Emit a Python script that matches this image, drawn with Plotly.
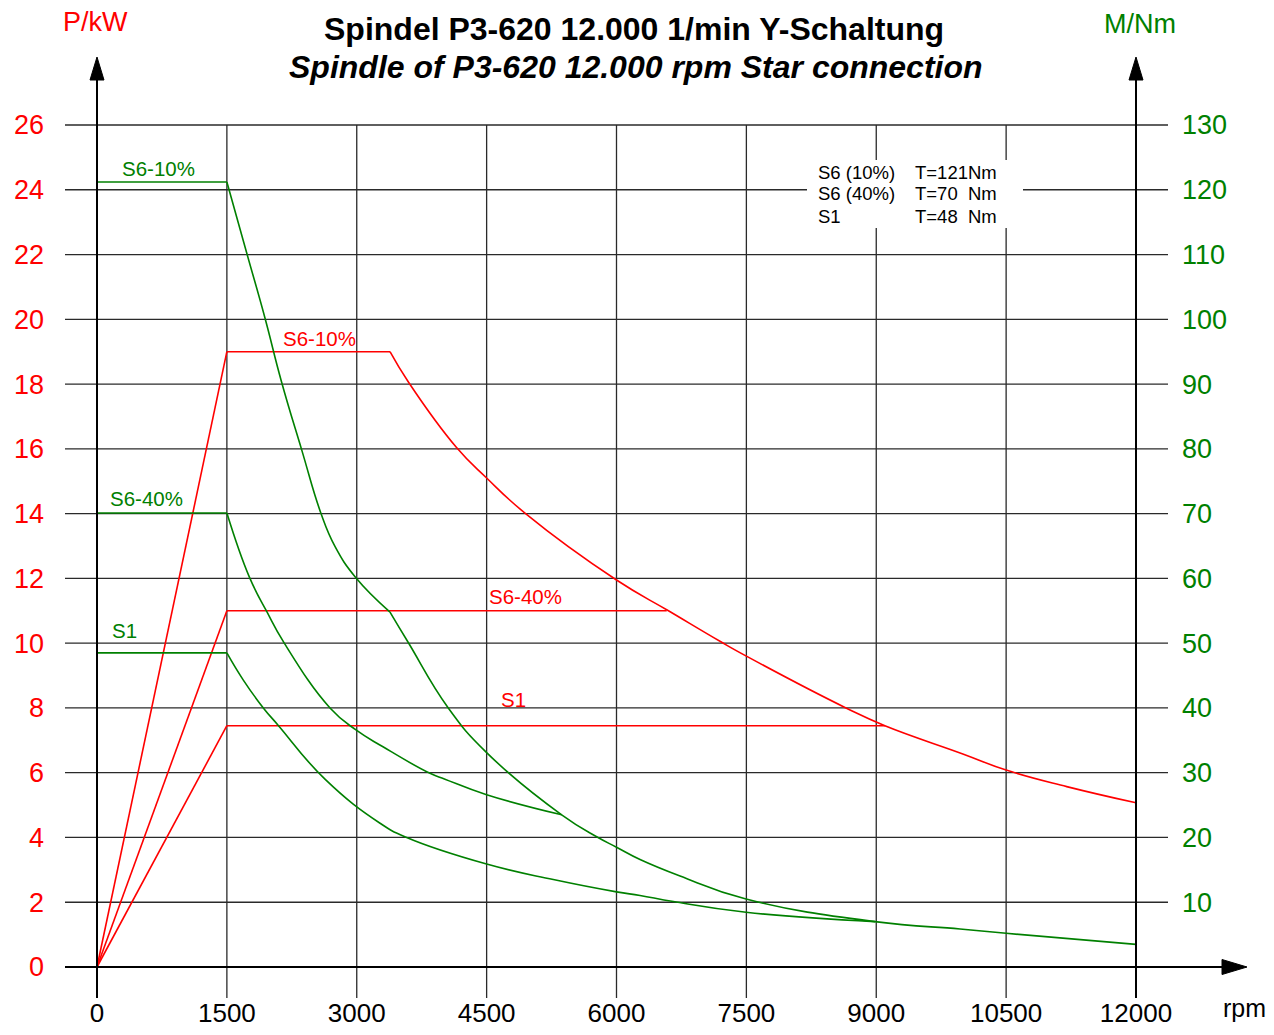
import plotly.graph_objects as go

# ---------------- data ----------------
rpm_ticks = [0, 1500, 3000, 4500, 6000, 7500, 9000, 10500, 12000]
kw_ticks = [0, 2, 4, 6, 8, 10, 12, 14, 16, 18, 20, 22, 24, 26]
nm_ticks = [10, 20, 30, 40, 50, 60, 70, 80, 90, 100, 110, 120, 130]

# Power curves (kW)
p_s6_10_rpm = [0, 1500, 3384, 3600, 4150, 4500, 4950, 6000, 6600, 7200, 7500, 8650, 9100, 10000, 10500, 11200, 12000]
p_s6_10_kw = [0, 19, 19, 18.05, 16.05, 15.1, 14.0, 11.95, 11.0, 10.05, 9.6, 8.0, 7.45, 6.58, 6.08, 5.57, 5.07]
p_s6_40_rpm = [0, 1500, 6580]
p_s6_40_kw = [0, 11, 11]
p_s1_rpm = [0, 1500, 9100]
p_s1_kw = [0, 7.45, 7.45]

# Torque curves (Nm)
t_s6_10_rpm = [0, 1500, 1730, 1940, 2130, 2365, 2585, 2750, 2990, 3384, 3595, 4057, 4500,
               5367, 5771, 6000, 6272, 6734, 7496, 8986, 9968, 10500, 12000]
t_s6_10_nm = [121.2, 121.2, 110.2, 100.2, 90.4, 79.8, 70.1, 64.9, 60.1, 54.8, 50.1, 40.0, 33.1,
              23.5, 20.1, 18.5, 16.6, 14.05, 10.5, 7.0, 5.87, 5.2, 3.5]
t_s6_40_rpm = [0, 1500, 1760, 1960, 2163, 2691, 2991, 3303, 3846, 4019, 4500, 5367]
t_s6_40_nm = [70.1, 70.1, 60.2, 54.9, 50.0, 40.0, 36.6, 34.0, 29.9, 29.0, 26.6, 23.5]
t_s1_rpm = [0, 1500, 1690, 1921, 2094, 2633, 3269, 3577, 4500, 5270, 6000, 6272, 6657, 7496, 8986]
t_s1_nm = [48.5, 48.5, 44.3, 40.0, 37.3, 29.0, 22.2, 20.0, 15.9, 13.5, 11.6, 11.05, 10.1, 8.45, 7.0]

legend_rows = [("S6 (10%)", "T=121Nm"), ("S6 (40%)", "T=70  Nm"), ("S1", "T=48  Nm")]

# ---------------- layout geometry ----------------
OFF = 8                        # page body margin of the html
W, H = 1274 - 2 * OFF, 1035 - 2 * OFF
PL, PR, PT, PB = 65, 1250, 55, 998   # plot area in reference pixels
L, R, T, B = PL - OFF, W - (PR - OFF), PT - OFF, H - (PB - OFF)
PX0, PX12 = 97, 1136          # pixel x of 0 and 12000 rpm
PY0, PY26 = 967, 125          # pixel y of 0 kW and 26 kW
S = (rpm_ticks[-1] - rpm_ticks[0]) / (PX12 - PX0)
KY = kw_ticks[-1] / (PY0 - PY26)
NY = nm_ticks[-1] / (PY0 - PY26)

def px2rpm(px): return (px - PX0) * S
def py2kw(py): return (PY0 - py) * KY
def py2nm(py): return (PY0 - py) * NY
def pxp(px): return (px - PL) / (PR - PL)
def pyp(py): return (PB - py) / (PB - PT)

RED = "#ff0000"
GREEN = "#008000"
FONT = "Liberation Sans, Arial, sans-serif"

fig = go.Figure()

def add_curve(xs, ys, breaks, color, yaxis):
    for a, b in zip(breaks[:-1], breaks[1:]):
        seg_x = xs[a:b + 1]
        seg_y = ys[a:b + 1]
        shape = "linear" if len(seg_x) <= 2 else "spline"
        line = dict(color=color, width=1.6, shape=shape)
        if shape == "spline":
            line["smoothing"] = 1.3
        fig.add_trace(go.Scatter(x=seg_x, y=seg_y, mode="lines", line=line,
                                 yaxis=yaxis, hoverinfo="skip", showlegend=False))

add_curve(p_s6_10_rpm, p_s6_10_kw, [0, 1, 2, len(p_s6_10_rpm) - 1], RED, "y")
add_curve(p_s6_40_rpm, p_s6_40_kw, [0, 1, 2], RED, "y")
add_curve(p_s1_rpm, p_s1_kw, [0, 1, 2], RED, "y")
add_curve(t_s6_10_rpm, t_s6_10_nm, [0, 1, 9, len(t_s6_10_rpm) - 1], GREEN, "y2")
add_curve(t_s6_40_rpm, t_s6_40_nm, [0, 1, len(t_s6_40_rpm) - 1], GREEN, "y2")
add_curve(t_s1_rpm, t_s1_nm, [0, 1, len(t_s1_rpm) - 1], GREEN, "y2")

shapes = []
GRID = dict(color="#2a2a2a", width=1.3)
AX = dict(color="black", width=2)
xl, xr = px2rpm(65), px2rpm(1168)
ybot = py2kw(998)
for v in kw_ticks[1:]:
    shapes.append(dict(type="line", xref="x", yref="y", x0=xl, x1=xr, y0=v, y1=v,
                       line=GRID, layer="below"))
for v in rpm_ticks[1:-1]:
    shapes.append(dict(type="line", xref="x", yref="y", x0=v, x1=v, y0=ybot, y1=kw_ticks[-1],
                       line=GRID, layer="below"))
# legend box (white, covers grid)
shapes.append(dict(type="rect", xref="x", yref="y", x0=px2rpm(807), x1=px2rpm(1023),
                   y0=py2kw(228), y1=py2kw(160), fillcolor="white", line=dict(width=0), layer="below"))
# axes with arrow heads
ytop_base = py2kw(78)
for v in (rpm_ticks[0], rpm_ticks[-1]):
    shapes.append(dict(type="line", xref="x", yref="y", x0=v, x1=v, y0=ybot, y1=ytop_base,
                       line=AX, layer="above"))
    hw = 7 * S
    shapes.append(dict(type="path", xref="x", yref="y",
                       path=f"M {v - hw} {py2kw(80)} L {v} {py2kw(57)} L {v + hw} {py2kw(80)} Z",
                       fillcolor="black", line=dict(color="black", width=1), layer="above"))
shapes.append(dict(type="line", xref="x", yref="y", x0=xl, x1=px2rpm(1225), y0=0, y1=0,
                   line=AX, layer="above"))
hh = 7.5 * KY
shapes.append(dict(type="path", xref="x", yref="y",
                   path=f"M {px2rpm(1222)} {-hh} L {px2rpm(1247)} 0 L {px2rpm(1222)} {hh} Z",
                   fillcolor="black", line=dict(color="black", width=1), layer="above"))

ann = []
def text(px, py, s, size, color="black", xanchor="center", bold=False, italic=False):
    if italic:
        s = f"<i>{s}</i>"
    if bold:
        s = f"<b>{s}</b>"
    ann.append(dict(x=pxp(px), y=pyp(py), xref="paper", yref="paper", text=s, showarrow=False,
                    xanchor=xanchor, yanchor="middle",
                    font=dict(family=FONT, size=size, color=color)))

text(634, 29, "Spindel P3-620 12.000 1/min Y-Schaltung", 32, bold=True)
text(636, 67, "Spindle of P3-620 12.000 rpm Star connection", 32, bold=True, italic=True)
text(95, 22, "P/kW", 27, RED)
text(1140, 24, "M/Nm", 27, GREEN)
text(1244, 1008, "rpm", 25)

# curve labels
text(158, 168, "S6-10%", 20.5, GREEN)
text(146, 498, "S6-40%", 20.5, GREEN)
text(124, 631, "S1", 20.5, GREEN)
text(319, 338, "S6-10%", 20.5, RED)
text(525, 597, "S6-40%", 20.5, RED)
text(513, 699, "S1", 20.5, RED)

# legend box text
for i, (a, b) in enumerate(legend_rows):
    yy = 172 + i * 22
    text(816, yy, a, 18.5, xanchor="left")
    text(913, yy, b, 18.5, xanchor="left")

fig.update_layout(
    width=W, height=H, autosize=False,
    margin=dict(l=L, r=R, t=T, b=B, autoexpand=False),
    paper_bgcolor="white", plot_bgcolor="white",
    showlegend=False, hovermode=False,
    shapes=shapes, annotations=ann,
    xaxis=dict(range=[px2rpm(PL), px2rpm(PR)], tickvals=rpm_ticks,
               ticktext=[str(v) for v in rpm_ticks], showgrid=False, zeroline=False,
               showline=False, ticks="", ticklabelstandoff=-3,
               tickfont=dict(family=FONT, size=26, color="black")),
    yaxis=dict(range=[py2kw(PB), py2kw(PT)], tickvals=kw_ticks, showgrid=False, zeroline=False,
               showline=False, ticks="", ticklabelstandoff=20,
               tickfont=dict(family=FONT, size=27, color=RED)),
    yaxis2=dict(range=[py2nm(PB), py2nm(PT)], tickvals=nm_ticks, overlaying="y", side="right",
                anchor="free", position=pxp(1168), showgrid=False, zeroline=False,
                showline=False, ticks="", ticklabelstandoff=13,
                tickfont=dict(family=FONT, size=27, color=GREEN)),
)

fig.write_html("out.html")
